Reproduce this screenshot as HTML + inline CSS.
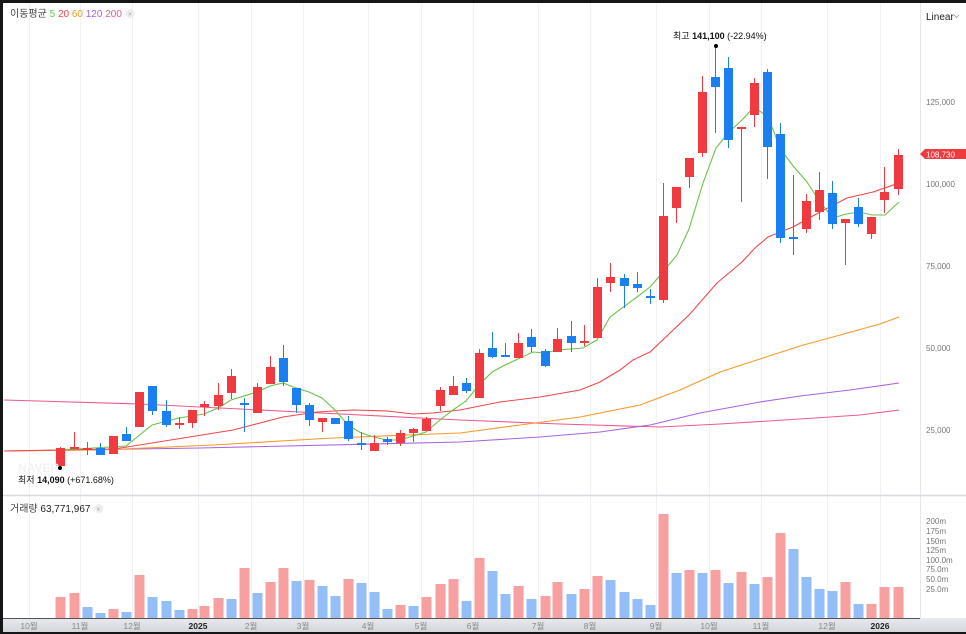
<!DOCTYPE html>
<html><head><meta charset="utf-8">
<style>
html,body{margin:0;padding:0;background:#161616;}
#w{position:relative;width:966px;height:634px;overflow:hidden;background:#161616;}
svg{position:absolute;left:0;top:0;}
text{font-family:"Liberation Sans","Noto Sans CJK KR",sans-serif;}
</style></head><body>
<div id="w">
<svg id="s" width="966" height="634" viewBox="0 0 966 634" xmlns="http://www.w3.org/2000/svg">
<rect x="3" y="3" width="963" height="615" fill="#fff"/>
<defs><linearGradient id="ax" x1="0" y1="0" x2="0" y2="1"><stop offset="0" stop-color="#e9eaee"/><stop offset="1" stop-color="#d4d6dc"/></linearGradient></defs>
<rect x="3" y="618" width="963" height="14" fill="url(#ax)"/>
<line x1="3" y1="618.5" x2="920" y2="618.5" stroke="#555" stroke-width="1"/>
<g id="grid" stroke="#f0f1f3" stroke-width="1"></g>
<line x1="920.5" y1="3" x2="920.5" y2="618" stroke="#e6e7ea"/>
<line x1="3" y1="495.5" x2="966" y2="495.5" stroke="#d8dae0" stroke-width="1.5"/>
<g id="vol"></g>
<g id="ma" fill="none" stroke-width="1.1"></g>
<g id="cd"></g>
<g font-size="8" fill="#777">
<text x="926" y="105">125,000</text><text x="926" y="187">100,000</text><text x="926" y="269">75,000</text><text x="926" y="351">50,000</text><text x="926" y="433">25,000</text>
<text x="926" y="524">200m</text><text x="926" y="534">175m</text><text x="926" y="544">150m</text><text x="926" y="553">125m</text><text x="926" y="572" >75.0m</text><text x="926" y="563">100.0m</text><text x="926" y="582">50.0m</text><text x="926" y="592">25.0m</text>
</g>
<text x="926" y="20" font-size="10" fill="#222">Linear</text>
<path d="M954 15 l2.5 2.5 l2.5 -2.5" stroke="#999" fill="none" stroke-width="0.8"/>
<path d="M920 154 l5 -5 h41 v10 h-41 z" fill="#ef3a3f"/>
<text x="926" y="157.5" font-size="8" fill="#fff">108,730</text>
<text id="lg1" x="10" y="17" font-size="10" fill="#444">이동평균 <tspan fill="#6cc24a">5</tspan> <tspan fill="#f0474c">20</tspan> <tspan fill="#f59a2c">60</tspan> <tspan fill="#a964e0">120</tspan> <tspan fill="#ef5a8c">200</tspan></text>
<g id="x1"><circle cx="0" cy="-3.5" r="4.5" fill="#eee"/><text x="-2.5" y="-0.5" font-size="7" fill="#aaa">×</text></g>
<text id="lg2" x="10" y="512" font-size="10" fill="#444">거래량 <tspan fill="#222">63,771,967</tspan></text>
<g id="x2"><circle cx="0" cy="-3.5" r="4.5" fill="#eee"/><text x="-2.5" y="-0.5" font-size="7" fill="#aaa">×</text></g>
<text x="18" y="472" font-size="12" font-weight="bold" fill="#f2f2f2">NAVER</text>
<circle cx="60" cy="468" r="2" fill="#000"/>
<text x="18" y="483" font-size="9" fill="#111" font-family="Liberation Serif,'Noto Serif CJK SC',serif">최저 <tspan font-weight="bold"> 14,090</tspan> (+671.68%)</text>
<circle cx="716" cy="46" r="2" fill="#000"/>
<text x="673" y="39" font-size="9" fill="#111" font-family="Liberation Serif,'Noto Serif CJK SC',serif">최고 <tspan font-weight="bold"> 141,100</tspan> (-22.94%)</text>
<g id="mon" font-size="8.5" fill="#888" text-anchor="middle"></g>
</svg>
</div>
<script>
var NS="http://www.w3.org/2000/svg";
function el(p,t,a){var e=document.createElementNS(NS,t);for(var k in a)e.setAttribute(k,a[k]);p.appendChild(e);return e;}
var months=[[29,"10월"],[80,"11월"],[132,"12월"],[198,"2025"],[251,"2월"],[303,"3월"],[368,"4월"],[421,"5월"],[473,"6월"],[538,"7월"],[590,"8월"],[656,"9월"],[709,"10월"],[761,"11월"],[827,"12월"],[880,"2026"]];
var g=document.getElementById("grid"),mo=document.getElementById("mon");
months.forEach(function(m){el(g,"line",{x1:m[0]+.5,y1:3,x2:m[0]+.5,y2:618});
var t=el(mo,"text",{x:m[0],y:629});t.textContent=m[1];if(m[1].length==4){t.setAttribute("fill","#222");t.setAttribute("font-weight","bold");}});
var C=[[60,448,466,447,466,'r'],[74,447,448,432,448,'r'],[87,448,450,442,455,'r'],[100,448,455,443,455,'b'],[113,436,454,436,454,'r'],[126,434,441,427,441,'b'],[139,392,427,392,427,'r'],[152,386,411,386,415,'b'],[166,411,425,400,427,'b'],[179,423,424,417,429,'r'],[192,410,423,410,428,'r'],[204,404,407,401,416,'r'],[218,395,406,383,410,'r'],[231,376,393,369,399,'r'],[244,403,405,398,432,'b'],[257,387,413,383,413,'r'],[270,367,384,356,384,'r'],[283,358,382,345,386,'b'],[296,388,405,388,413,'b'],[309,405,420,403,426,'b'],[322,418,422,418,432,'r'],[335,418,424,418,424,'b'],[348,421,439,416,441,'b'],[361,443,445,432,450,'b'],[374,443,451,435,451,'r'],[387,439,442,437,445,'b'],[400,433,443,430,446,'r'],[413,429,433,428,442,'r'],[426,419,431,417,431,'r'],[440,390,406,387,411,'r'],[453,386,395,376,395,'r'],[466,383,391,378,393,'b'],[479,353,398,349,398,'r'],[492,348,357,332,358,'b'],[505,355,356,343,357,'b'],[518,343,358,333,358,'r'],[531,337,347,329,352,'b'],[545,351,366,349,367,'b'],[557,339,352,328,352,'r'],[571,336,343,321,352,'b'],[584,341,343,325,346,'r'],[597,287,338,278,338,'r'],[610,277,283,263,292,'r'],[624,278,286,274,308,'b'],[637,284,288,272,292,'b'],[650,296,297,289,304,'b'],[663,216,300,183,303,'r'],[676,187,208,187,223,'r'],[689,158,177,158,188,'r'],[702,92,153,76,157,'r'],[715,77,87,46,133,'b'],[728,68,140,57,148,'b'],[741,127,129,127,202,'r'],[754,83,115,78,127,'r'],[767,72,147,69,179,'b'],[780,134,238,123,243,'b'],[793,237,239,175,255,'b'],[806,201,229,194,233,'r'],[819,190,212,172,220,'r'],[832,193,224,181,229,'b'],[845,219,223,219,265,'r'],[858,207,224,198,227,'b'],[871,217,234,217,239,'r'],[884,192,200,167,213,'r'],[898,155,189,149,195,'r']];
var cd=document.getElementById("cd");
C.forEach(function(c){var col=c[5]=='r'?'#ef3a3f':'#1a7ff0';
el(cd,"line",{x1:c[0]+.5,y1:c[3],x2:c[0]+.5,y2:c[4],stroke:col,"stroke-width":1});
el(cd,"rect",{x:c[0]-4,y:c[1],width:9,height:Math.max(2,c[2]-c[1]),fill:col});});
var V=[[597,'r'],[593,'r'],[607,'b'],[613,'b'],[609,'r'],[612,'b'],[575,'r'],[597,'b'],[601,'b'],[610,'b'],[609,'r'],[606,'r'],[598,'r'],[599,'b'],[568,'r'],[593,'b'],[582,'r'],[568,'r'],[581,'b'],[580,'r'],[586,'b'],[596,'b'],[579,'r'],[583,'b'],[592,'b'],[609,'b'],[605,'r'],[606,'b'],[597,'r'],[584,'r'],[579,'r'],[601,'b'],[558,'r'],[571,'b'],[594,'b'],[586,'r'],[599,'b'],[596,'r'],[582,'r'],[594,'b'],[589,'r'],[576,'r'],[580,'b'],[592,'b'],[599,'b'],[605,'b'],[514,'r'],[573,'b'],[570,'r'],[573,'b'],[570,'r'],[583,'b'],[572,'r'],[584,'b'],[577,'r'],[533,'r'],[549,'b'],[577,'b'],[589,'b'],[591,'b'],[582,'r'],[604,'b'],[604,'r'],[587,'r'],[587,'r']];
var vg=document.getElementById("vol");
V.forEach(function(v,i){var x=C[i][0];el(vg,"rect",{x:x-4.5,y:v[0],width:10,height:618-v[0],fill:v[1]=='r'?'#f8a0a0':'#94bef8'});});
var MA=[
['#ef5a8c',"4,400 140,404 300,412 460,420 560,424 660,427 720,424 800,419 860,415 899,410"],
['#a964e0',"4,451 200,448 460,442 540,437 600,432 650,425 700,413 760,402 800,396 850,390 899,383"],
['#f59a2c',"4,451 100,450 213,445 333,438 460,433 520,425 580,417 640,405 680,390 720,372 760,359 800,346 840,335 880,324 899,317"],
['#f0474c',"4,451 113,449 127,447 233,430 283,417 317,412 353,410 387,411 413,414 433,413 460,410 500,402 540,397 580,390 600,382 620,370 633,360 650,352 689,315 717,283 742,262 755,248 768,237 793,227 820,212 847,198 873,192 899,183"],
['#6cc24a',"60,450 126,446 152,425 179,418 204,414 218,408 231,400 257,392 270,386 283,383 296,388 309,392 322,398 335,410 348,425 361,433 374,437 387,440 400,440 413,436 426,432 440,420 453,410 466,401 479,385 492,372 505,365 520,358 533,352 545,353 558,350 583,348 597,340 610,317 637,297 650,287 663,272 677,255 689,229 703,183 716,148 728,133 742,120 754,107 768,117 781,150 794,167 807,182 820,202 833,218 846,214 859,212 872,215 885,215 899,202"]];
var mg=document.getElementById("ma");
MA.forEach(function(m){el(mg,"polyline",{points:m[1],stroke:m[0]});});
function place(t,x,y){var b=document.getElementById(t).getBBox();document.getElementById(x).setAttribute("transform","translate("+(b.x+b.width+8)+","+y+")");}
place("lg1","x1",17);place("lg2","x2",512);
</script>
</body></html>
